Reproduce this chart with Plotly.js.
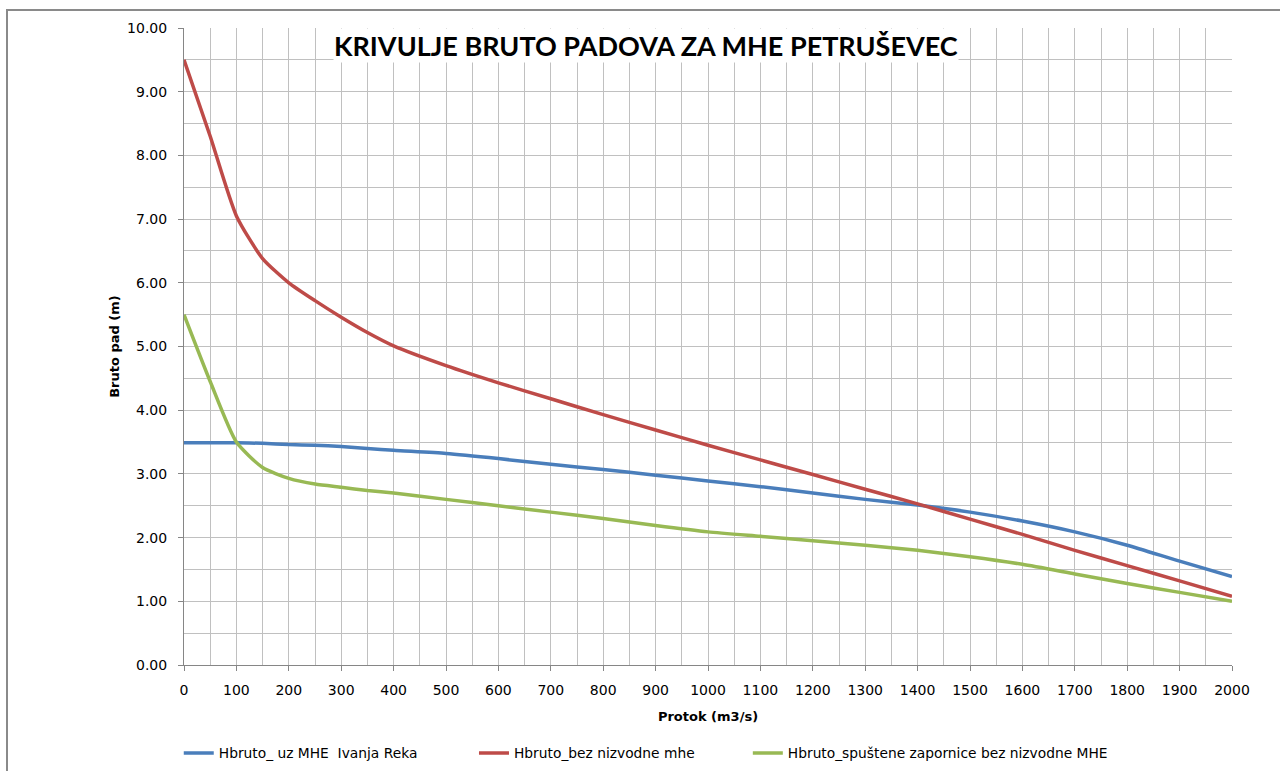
<!DOCTYPE html>
<html>
<head>
<meta charset="utf-8">
<script src="https://cdn.plot.ly/plotly-3.0.1.min.js"></script>
<style>
  body { margin: 0; background: #fff; }
  #frame { position: absolute; left: 6px; top: 9px; width: 1300px; height: 800px;
           border-left: 2px solid #8a8a8a; border-top: 2px solid #8a8a8a; pointer-events: none; }
  #myPlot { position: absolute; left: 0; top: 0; width: 1280px; height: 771px; }
</style>
</head>
<body>
<div id="myPlot"></div>
<div id="frame"></div>
<script>
// Protok (m3/s)
var protok = [0, 50, 100, 150, 200, 250, 300, 350, 400, 500, 600, 700, 800, 900, 1000,
              1100, 1200, 1300, 1400, 1500, 1600, 1700, 1800, 1900, 2000]

// Hbruto_ uz MHE Ivanja Reka
var hIvanja = [3.49, 3.49, 3.49, 3.48, 3.46, 3.45, 3.43, 3.40, 3.37, 3.32, 3.24, 3.15, 3.07, 2.98, 2.89,
               2.80, 2.70, 2.60, 2.51, 2.40, 2.26, 2.09, 1.88, 1.63, 1.39]

// Hbruto_bez nizvodne mhe
var hBez = [9.50, 8.30, 7.05, 6.38, 6.00, 5.72, 5.46, 5.22, 5.01, 4.70, 4.43, 4.18, 3.93, 3.69, 3.45,
            3.22, 2.99, 2.76, 2.53, 2.29, 2.05, 1.80, 1.56, 1.32, 1.08]

// Hbruto_spuštene zapornice bez nizvodne MHE
var hSpust = [5.50, 4.45, 3.50, 3.10, 2.93, 2.84, 2.79, 2.74, 2.70, 2.60, 2.50, 2.40, 2.30, 2.19, 2.09,
              2.02, 1.95, 1.88, 1.80, 1.70, 1.58, 1.43, 1.28, 1.14, 1.00]

var imena = ["Hbruto_ uz MHE&nbsp; Ivanja Reka", "Hbruto_bez nizvodne mhe",
             "Hbruto_spuštene zapornice bez nizvodne MHE"]

var xTicks = []
for (var i = 0; i <= 2000; i += 100) xTicks.push(i)
var yTicks = [0, 1, 2, 3, 4, 5, 6, 7, 8, 9, 10]

var data = [
  {x: protok, y: hIvanja, mode: "lines", name: imena[0], legend: "legend",
   line: {color: "#4a7ebb", width: 3.5, shape: "spline", smoothing: 0.6}},
  {x: protok, y: hBez, mode: "lines", name: imena[1], legend: "legend2",
   line: {color: "#be4b48", width: 3.5, shape: "spline", smoothing: 0.6}},
  {x: protok, y: hSpust, mode: "lines", name: imena[2], legend: "legend3",
   line: {color: "#98b954", width: 3.5, shape: "spline", smoothing: 0.6}}
]

// one legend per series, placed under the plot like the original
function legendAt(xPos) {
  return {orientation: "h", x: xPos, xanchor: "left", y: -0.138, yanchor: "middle",
          font: {family: "DejaVu Sans", size: 13.8, color: "#000"}, itemwidth: 30,
          bgcolor: "rgba(0,0,0,0)"}
}

var layout = {
  width: 1280, height: 771,
  margin: {l: 184, r: 48, t: 28, b: 106, autoexpand: false},
  paper_bgcolor: "#fff", plot_bgcolor: "#fff",
  font: {family: "DejaVu Sans", size: 14, color: "#000"},
  showlegend: true,
  legend: legendAt(-0.005),
  legend2: legendAt(0.2767),
  legend3: legendAt(0.538),
  xaxis: {
    range: [0, 2000], tickvals: xTicks, ticktext: xTicks.map(String),
    showgrid: true, gridcolor: "#c0c0c0", gridwidth: 1,
    minor: {dtick: 50, showgrid: true, gridcolor: "#c0c0c0", gridwidth: 1},
    showline: true, linecolor: "#868686", linewidth: 1,
    ticks: "outside", ticklen: 5, tickcolor: "#868686", ticklabelstandoff: 7,
    zeroline: false, fixedrange: true, automargin: true,
    title: {text: "<b>Protok (m3/s)</b>", font: {family: "DejaVu Sans", size: 13}, standoff: 15}
  },
  yaxis: {
    range: [0, 10], tickvals: yTicks, ticktext: yTicks.map(function (v) { return v.toFixed(2) }),
    showgrid: true, gridcolor: "#c0c0c0", gridwidth: 1,
    minor: {dtick: 0.5, showgrid: true, gridcolor: "#c0c0c0", gridwidth: 1},
    showline: true, linecolor: "#868686", linewidth: 1,
    ticks: "outside", ticklen: 5, tickcolor: "#868686", ticklabelstandoff: 8,
    zeroline: false, fixedrange: true, automargin: true,
    title: {text: "<b>Bruto pad (m)</b>", font: {family: "DejaVu Sans", size: 13}, standoff: 4}
  },
  annotations: [{
    text: "<b>KRIVULJE BRUTO PADOVA ZA MHE PETRUŠEVEC</b>",
    xref: "paper", yref: "paper", x: 0.441, y: 0.972, xanchor: "center", yanchor: "middle",
    showarrow: false, bgcolor: "#fff", borderpad: 0,
    font: {family: "Lato", size: 27, color: "#000"}
  }]
}

Plotly.newPlot("myPlot", data, layout, {displayModeBar: false})
</script>
</body>
</html>
